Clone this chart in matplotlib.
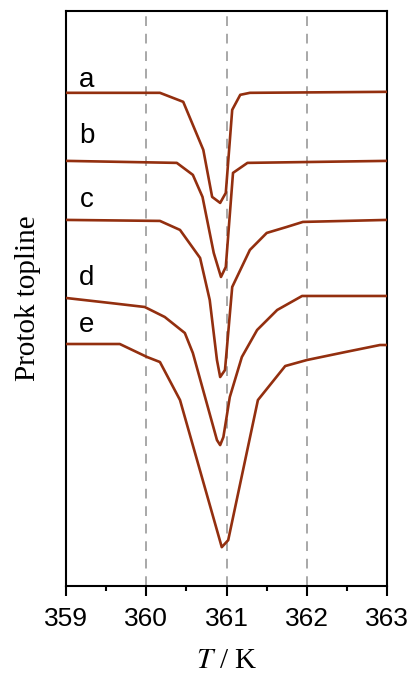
import matplotlib
matplotlib.use('Agg')
import matplotlib.pyplot as plt
from matplotlib.ticker import MultipleLocator, NullLocator

plt.rcParams['mathtext.fontset'] = 'stix'

# DSC-like curves (arbitrary heat-flow units)
T_a = [359.00, 360.17, 360.46, 360.71, 360.82, 360.92, 360.99, 361.07, 361.17, 361.29, 363.00]
y_a = [4.93, 4.93, 4.84, 4.36, 3.89, 3.83, 3.93, 4.76, 4.91, 4.93, 4.94]

T_b = [359.00, 360.38, 360.58, 360.70, 360.84, 360.93, 360.99, 361.08, 361.26, 363.00]
y_b = [4.25, 4.23, 4.11, 3.89, 3.33, 3.09, 3.19, 4.13, 4.23, 4.25]

T_c = [359.00, 360.17, 360.42, 360.67, 360.79, 360.88, 360.92, 360.98, 361.07,
       361.29, 361.50, 361.75, 361.95, 363.00]
y_c = [3.66, 3.65, 3.56, 3.28, 2.86, 2.26, 2.09, 2.16, 2.99, 3.36, 3.53, 3.59, 3.64, 3.66]

T_d = [359.00, 359.55, 359.98, 360.23, 360.48, 360.58, 360.88, 360.92, 360.96,
       361.04, 361.19, 361.38, 361.63, 361.94, 363.00]
y_d = [2.88, 2.83, 2.79, 2.69, 2.53, 2.33, 1.46, 1.41, 1.49, 1.89, 2.29, 2.56, 2.76, 2.90, 2.90]

T_e = [359.00, 359.67, 360.01, 360.17, 360.42, 360.94, 361.02, 361.39,
       361.73, 362.00, 362.48, 362.91, 363.00]
y_e = [2.42, 2.42, 2.29, 2.24, 1.86, 0.39, 0.46, 1.86, 2.20, 2.26, 2.34, 2.41, 2.41]

labels = ['a', 'b', 'c', 'd', 'e']
label_y = [5.06, 4.50, 3.86, 3.08, 2.61]

curves = [(T_a, y_a), (T_b, y_b), (T_c, y_c), (T_d, y_d), (T_e, y_e)]
color = '#932f0f'

fig = plt.figure(figsize=(4.15, 6.73), dpi=100)
ax = fig.add_axes([0.159, 0.129, 0.774, 0.855])

for x in [360, 361, 362]:
    ax.axvline(x, color='#a8a8a8', lw=1.4, dashes=(5, 4), zorder=1)

for (T, y), lab, ly in zip(curves, labels, label_y):
    ax.plot(T, y, color=color, lw=1.9, zorder=3)
    ax.text(359.26, ly, lab, fontsize=20, family='Liberation Sans',
            ha='center', va='center')

ax.set_xlim(359, 363)
ax.set_ylim(0, 5.75)
ax.xaxis.set_major_locator(MultipleLocator(1))
ax.xaxis.set_minor_locator(MultipleLocator(0.5))
ax.yaxis.set_major_locator(NullLocator())
ax.tick_params(axis='x', which='major', direction='out', length=7, width=1.5,
               labelsize=19, pad=8)
ax.tick_params(axis='x', which='minor', direction='out', length=3.5, width=1.5)
for lbl in ax.get_xticklabels():
    lbl.set_family('Liberation Sans')
for s in ax.spines.values():
    s.set_linewidth(1.5)

ax.set_xlabel(r'$T$ / K', fontsize=21, family='Liberation Serif', labelpad=12)
ax.set_ylabel('Protok topline', fontsize=21, family='Liberation Serif', labelpad=18)

plt.savefig('out.png', dpi=100)
